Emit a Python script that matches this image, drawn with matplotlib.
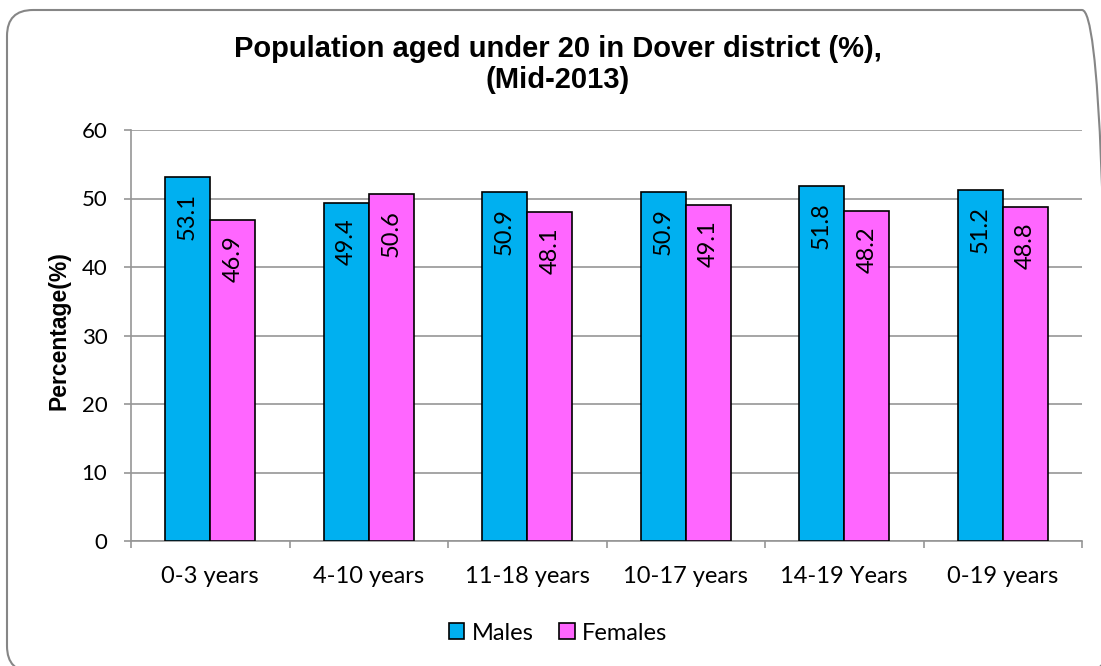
import numpy as np
import matplotlib
matplotlib.use("Agg")
import matplotlib.pyplot as plt
from matplotlib.patches import FancyBboxPatch

categories = ["0-3 years", "4-10 years", "11-18 years", "10-17 years", "14-19 Years", "0-19 years"]
males = [53.1, 49.4, 50.9, 50.9, 51.8, 51.2]
females = [46.9, 50.6, 48.1, 49.1, 48.2, 48.8]

male_color = "#00B0F0"
female_color = "#FF66FF"
grid_color = "#969696"

plt.rcParams["font.family"] = ["Lato", "DejaVu Sans"]

W, H = 1101, 666
fig = plt.figure(figsize=(W / 100, H / 100), dpi=100)
ax = fig.add_axes([131 / W, 1 - 541 / H, 951 / W, 411 / H])

# rounded frame, runs off the right and bottom edge like the original
frame = FancyBboxPatch((7 / W, -6 / H), 1.0, 1 - 4 / H, boxstyle="round,pad=0,rounding_size=%f" % (26 / W),
                       transform=fig.transFigure, facecolor="none", edgecolor="#868686",
                       linewidth=1.5, mutation_aspect=W / H)
fig.patches.append(frame)

x = np.arange(len(categories))
w = 0.285
b1 = ax.bar(x - w / 2, males, w, color=male_color, edgecolor="black", linewidth=1.2, label="Males", zorder=3)
b2 = ax.bar(x + w / 2, females, w, color=female_color, edgecolor="black", linewidth=1.2, label="Females", zorder=3)

for bars in (b1, b2):
    for r in bars:
        h = r.get_height()
        ax.text(r.get_x() + r.get_width() / 2, h - 2.3, f"{h:.1f}", rotation=90,
                ha="center", va="top", fontsize=17, zorder=4)

ax.set_xlim(-0.5, len(categories) - 0.5)
ax.set_ylim(0, 60)
ax.set_yticks(range(0, 61, 10))
ax.set_xticks(x)
ax.set_xticklabels(categories, fontsize=17)
ax.set_xticks(np.arange(-0.5, len(categories)), minor=True)
ax.tick_params(axis="x", which="major", length=0, pad=18)
ax.tick_params(axis="x", which="minor", length=5, color=grid_color, direction="out", width=1.2)
ax.tick_params(axis="y", labelsize=16, length=5, color=grid_color, direction="out", width=1.2, pad=12)
ax.yaxis.grid(True, color=grid_color, linewidth=1.2, zorder=0)
ax.set_axisbelow(True)
for s in ["top", "right"]:
    ax.spines[s].set_visible(False)
for s in ["left", "bottom"]:
    ax.spines[s].set_color(grid_color)
    ax.spines[s].set_linewidth(1.2)

ax.set_ylabel("Percentage(%)", fontsize=16.5, fontweight="bold", family="Liberation Sans")
ax.yaxis.set_label_coords((70 - 131) / 951, 0.513)

fig.text(558 / W, 1 - 57 / H, "Population aged under 20 in Dover district (%),", ha="center", va="baseline",
         fontsize=21, fontweight="bold", family="Liberation Sans")
fig.text(558 / W, 1 - 88 / H, "(Mid-2013)", ha="center", va="baseline",
         fontsize=21, fontweight="bold", family="Liberation Sans")

fig.legend(handles=[b1, b2], loc="center", bbox_to_anchor=(558 / W, 1 - 633 / H), ncol=2, frameon=False,
           fontsize=17, handlelength=0.65, handleheight=0.65, handletextpad=0.3, columnspacing=1.1)

fig.savefig("out.png", dpi=100)
